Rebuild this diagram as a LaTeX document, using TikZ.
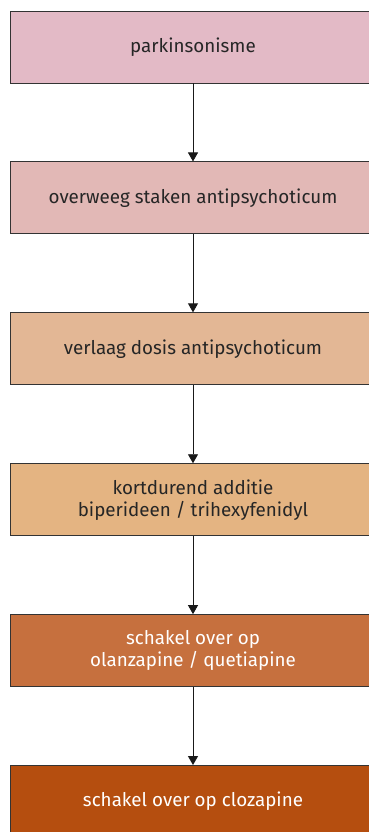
\documentclass[tikz,border=0pt]{standalone}
\usepackage{fontspec}
\setmainfont{Fira Sans}
\usetikzlibrary{positioning,arrows.meta}
\definecolor{stepA}{HTML}{E3BAC6}
\definecolor{stepB}{HTML}{E2B8B6}
\definecolor{stepC}{HTML}{E3B795}
\definecolor{stepD}{HTML}{E4B482}
\definecolor{stepE}{HTML}{C6703E}
\definecolor{stepF}{HTML}{B54E0F}
\tikzset{
  flowbox/.style={draw=black!80, line width=0.9pt, minimum width=366pt, minimum height=72pt,
    align=center, font=\fontsize{18.8}{22}\selectfont, text=black!85, inner sep=0pt},
  flowarrow/.style={-{Triangle[width=10pt,length=9pt]}, line width=0.9pt, black!90}
}
\begin{document}
\begin{tikzpicture}[x=1pt, y=1pt, node distance = 78pt]
\useasboundingbox (0,0) rectangle (369,-832);
\node (park)[flowbox, fill=stepA] at (193,-47) {parkinsonisme};
\node (staken)[flowbox, fill=stepB, below=of park] {overweeg staken antipsychoticum};
\node (dosis)[flowbox, fill=stepC, below=of staken] {verlaag dosis antipsychoticum};
\node (additie)[flowbox, fill=stepD, below=of dosis] {kortdurend additie\\biperideen / trihexyfenidyl};
\node (olanz)[flowbox, fill=stepE, text=white, below=of additie] {schakel over op\\olanzapine / quetiapine};
\node (cloza)[flowbox, fill=stepF, text=white, below=of olanz] {schakel over op clozapine};
\draw[flowarrow] (park) to (staken);
\draw[flowarrow] (staken) to (dosis);
\draw[flowarrow] (dosis) to (additie);
\draw[flowarrow] (additie) to (olanz);
\draw[flowarrow] (olanz) to (cloza);
\end{tikzpicture}
\end{document}
